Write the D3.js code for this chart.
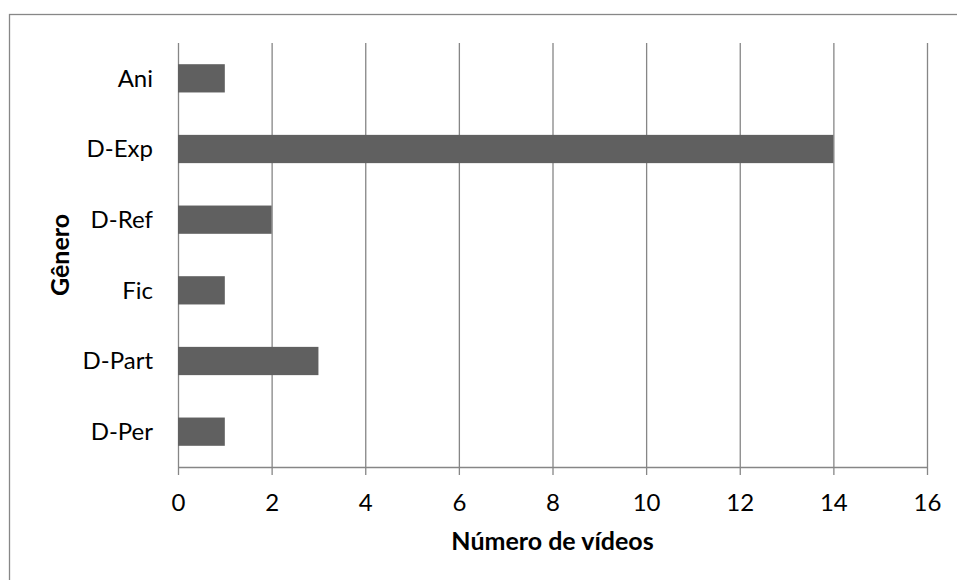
<!DOCTYPE html>
<html>
<head>
<meta charset="utf-8">
<script src="https://cdn.jsdelivr.net/npm/d3@7.9.0/dist/d3.min.js"></script>
<style>
  body { margin: 0; background: #fff; }
  svg { display: block; font-family: Lato, "Open Sans", sans-serif; }
</style>
</head>
<body>
<svg id="chart" width="957" height="580"></svg>
<script>
const categories = ['Ani', 'D-Exp', 'D-Ref', 'Fic', 'D-Part', 'D-Per'];
const values = [1, 14, 2, 1, 3, 1];
const xTicks = [0, 2, 4, 6, 8, 10, 12, 14, 16];

const svg = d3.select('#chart');
const plotLeft = 178, plotRight = 927, plotTop = 43, plotBottom = 467;

// outer chart border (only left + top edges visible in the frame)
svg.append('rect')
  .attr('x', 9.5).attr('y', 14.5)
  .attr('width', 1000).attr('height', 700)
  .attr('fill', 'none')
  .attr('stroke', '#878787')
  .attr('stroke-width', 1.3);

let x = d3.scaleLinear().domain([0, 16]).range([plotLeft, plotRight]);
let y = d3.scaleBand().domain(categories).range([plotTop, plotBottom])
  .paddingInner(0.6).paddingOuter(0.3);

// gridlines + tick marks
let xAxis = d3.axisBottom(x).tickValues(xTicks).tickSize(8).tickPadding(19);
let g = svg.append('g').attr('transform', `translate(0,${plotBottom})`).call(xAxis);
g.select('.domain').attr('stroke', '#868686').attr('stroke-width', 1.3).attr('d', `M${plotLeft},0.5H${plotRight}`);
g.selectAll('.tick line').attr('stroke', '#868686').attr('stroke-width', 1.3)
  .attr('y1', plotTop - plotBottom).attr('y2', 8);
g.selectAll('.tick text')
  .attr('font-size', 24)
  .attr('fill', '#000')
  .attr('font-family', 'Lato, "Open Sans", sans-serif');

// bars
svg.selectAll('rect.bar')
  .data(values)
  .join('rect')
  .attr('class', 'bar')
  .attr('x', x(0))
  .attr('y', (d, i) => y(categories[i]))
  .attr('width', d => x(d) - x(0))
  .attr('height', y.bandwidth())
  .attr('fill', '#606060');

// category labels
svg.selectAll('text.cat')
  .data(categories)
  .join('text')
  .attr('class', 'cat')
  .attr('x', 153)
  .attr('y', d => y(d) + y.bandwidth() / 2)
  .attr('dy', '0.35em')
  .attr('text-anchor', 'end')
  .attr('font-size', 24)
  .text(d => d);

// axis titles
svg.append('text')
  .attr('x', (plotLeft + plotRight) / 2)
  .attr('y', 550)
  .attr('text-anchor', 'middle')
  .attr('font-size', 25)
  .attr('font-weight', 'bold')
  .text('Número de vídeos');

svg.append('text')
  .attr('transform', `translate(69,${(plotTop + plotBottom) / 2}) rotate(-90)`)
  .attr('text-anchor', 'middle')
  .attr('font-size', 25)
  .attr('font-weight', 'bold')
  .text('Gênero');
</script>
</body>
</html>
